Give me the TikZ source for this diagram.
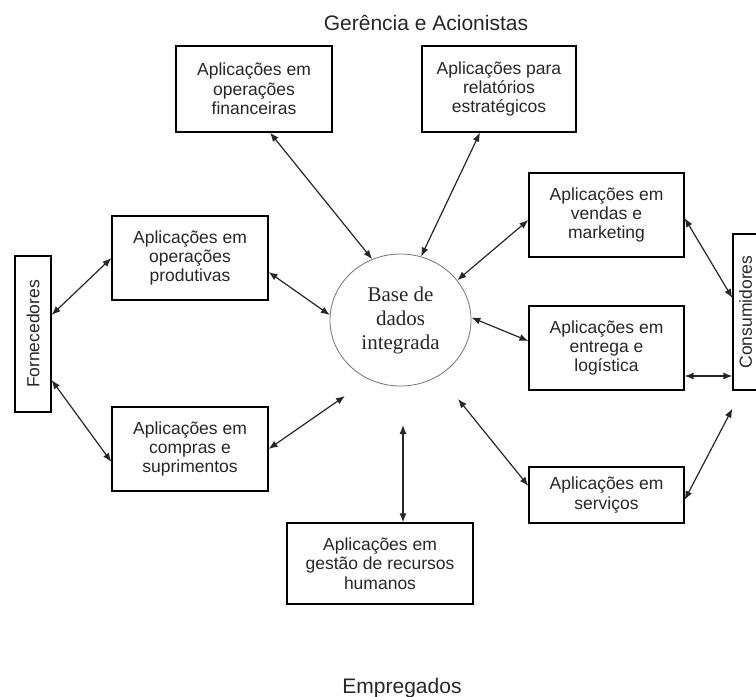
\documentclass[tikz,border=0pt]{standalone}
\usepackage{graphicx}
\usepackage{fontspec}
\setmainfont{Liberation Sans}
\newfontfamily\dbfont{Liberation Serif}
\usetikzlibrary{arrows.meta}
\usetikzlibrary{shapes.geometric}

\begin{document}
\begin{tikzpicture}[x=1pt, y=-1pt,
        appbox/.style={draw, line width=1.2pt, align=center, inner sep=2pt, font=\fontsize{17.5}{19.3}\selectfont, text=black!85},
        sidebox/.style={draw, line width=1.2pt, minimum height=156pt, inner sep=0pt, font=\fontsize{17.5}{19.3}\selectfont, text=black!85},
        dbl/.style={{Latex[length=9pt,width=7pt]}-{Latex[length=9pt,width=7pt]}, line width=1.2pt, black!85},
        actor/.style={anchor=base, font=\fontsize{21}{24}\selectfont, text=black!85}]
        \path[use as bounding box, clip] (0,0) rectangle (756,697); % whole figure, cut at the right edge
        % database in the middle
        \node[ellipse, draw=black!55, line width=0.8pt, minimum width=141pt, minimum height=132pt, align=center, text=black!85, font=\dbfont\fontsize{21}{24}\selectfont] (db) at (400.5,320) {Base de\\dados\\integrada};
        \coordinate (db-sw) at (345,396);
        \coordinate (db-se) at (458,399);
        \coordinate (db-s) at (403,425);
        % applications
        \node[appbox, minimum width=156pt, minimum height=86pt] (fin) at (254,89) {Aplicações em\\operações\\financeiras};
        \node[appbox, minimum width=154pt, minimum height=86pt] (rel) at (499,89) {Aplicações para\\relatórios\\estratégicos};
        \node[appbox, minimum width=156pt, minimum height=84pt] (prod) at (190,258) {Aplicações em\\operações\\produtivas};
        \node[appbox, minimum width=156pt, minimum height=84pt] (comp) at (190,449) {Aplicações em\\compras e\\suprimentos};
        \node[appbox, minimum width=155pt, minimum height=84pt] (vend) at (606.5,215) {Aplicações em\\vendas e\\marketing};
        \node[appbox, minimum width=155pt, minimum height=84pt] (entr) at (606.5,348) {Aplicações em\\entrega e\\logística};
        \node[appbox, minimum width=155pt, minimum height=56pt] (serv) at (606.5,495) {Aplicações em\\serviços};
        \node[appbox, minimum width=186pt, minimum height=81pt] (rh) at (380,563.5) {Aplicações em\\gestão de recursos\\humanos};
        % outside parties
        \node[sidebox, minimum width=36pt] (forn) at (33,334) {\rotatebox{90}{Fornecedores}};
        \node[sidebox, minimum width=25pt] (cons) at (745.5,312) {\rotatebox{90}{Consumidores}};
        \node[actor] (ger) at (426,30) {Gerência e Acionistas};
        \node[actor] (emp) at (402,693) {Empregados};
        % connections
        \draw[dbl] ([yshift=19pt]forn.east) -- (prod.west);
        \draw[dbl] ([yshift=-46pt]forn.east) -- ([yshift=-13pt]comp.west);
        \draw[dbl] ([yshift=-14pt]prod.east) -- (db.176);
        \draw[dbl] (comp.east) -- (db-sw);
        \draw[dbl] ([xshift=16pt]fin.south) -- (db.115);
        \draw[dbl] ([xshift=-19pt]rel.south) -- (db.72);
        \draw[dbl] ([yshift=-5pt]vend.west) -- (db.35);
        \draw[dbl] (db.2) -- ([yshift=7pt]entr.west);
        \draw[dbl] (db-se) -- ([yshift=9pt]serv.west);
        \draw[dbl] (db-s) -- (db-s |- rh.north);
        \draw[dbl] ([yshift=-3pt]vend.east) -- ([yshift=14pt]cons.west);
        \draw[dbl] ([yshift=-28pt]entr.east) -- ([yshift=-28pt]entr.east -| cons.west);
        \draw[dbl] ([yshift=-5pt]serv.east) -- ([yshift=-18pt]cons.south west);
    \end{tikzpicture}
\end{document}
